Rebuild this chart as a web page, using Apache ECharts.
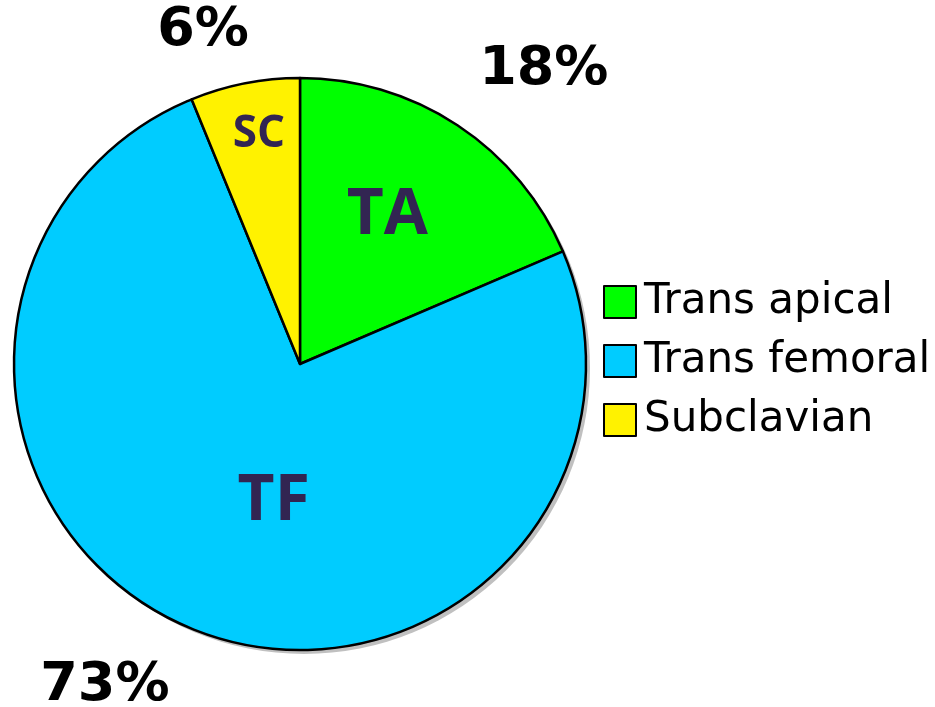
<!DOCTYPE html>
<html lang="en">
<head>
    <meta charset="UTF-8">
    <title>Access route</title>
    <style>
        html, body { margin: 0; padding: 0; background: #fff; }
        #chart { width: 935px; height: 707px; }
    </style>
</head>
<body>
<div id="chart"></div>
<script src="https://cdn.jsdelivr.net/npm/echarts@6/dist/echarts.min.js"></script>
<script>
    const names = ['Trans apical', 'Trans femoral', 'Subclavian'];
    const shortNames = ['TA', 'TF', 'SC'];
    const values = [18, 73, 6];
    const colors = ['#00ff00', '#00ccff', '#fff200'];

    // label nudges (px) away from the default spots
    const innerOffsets = [[7, -26], [29, 3], [-13, -86]];
    const outerOffsets = [[33, 26], [-50, -32], [-23, 43]];
    const innerSizes = [64, 64, 44];

    let chart = echarts.init(document.getElementById('chart'));
    let cx = 300, cy = 364, r = 286;

    let mainData = values.map(function (v, i) {
        return {
            name: names[i],
            value: v,
            itemStyle: { color: colors[i] },
            label: {
                formatter: shortNames[i],
                offset: innerOffsets[i],
                fontSize: innerSizes[i]
            }
        };
    });
    let pctData = values.map(function (v, i) {
        return {
            name: names[i],
            value: v,
            label: { formatter: v + '%', offset: outerOffsets[i] }
        };
    });
    let total = values.reduce(function (a, b) { return a + b; }, 0);

    let option = {
        animation: false,
        legend: {
            orient: 'vertical',
            left: 598,
            top: 276,
            itemWidth: 32,
            itemHeight: 32,
            itemGap: 17,
            icon: 'rect',
            data: names,
            itemStyle: { borderColor: '#000', borderWidth: 2 },
            textStyle: {
                fontFamily: 'DejaVu Sans',
                fontSize: 42,
                color: '#000',
                padding: [0, 0, 0, 3]
            }
        },
        series: [
            {
                name: 'shadow',
                type: 'pie',
                silent: true,
                center: [cx + 4, cy + 4],
                radius: [0, r],
                z: 1,
                label: { show: false },
                labelLine: { show: false },
                itemStyle: { color: '#c0c0c0', borderWidth: 0 },
                data: [{ name: 'shadow', value: total }]
            },
            {
                name: 'route',
                type: 'pie',
                center: [cx, cy],
                radius: [0, r],
                startAngle: 90,
                clockwise: true,
                z: 2,
                avoidLabelOverlap: false,
                itemStyle: { borderColor: '#000', borderWidth: 2.5 },
                label: {
                    show: true,
                    position: 'inside',
                    fontFamily: 'Open Sans',
                    fontWeight: 'bold',
                    color: '#322552'
                },
                labelLine: { show: false },
                emphasis: { disabled: true },
                data: mainData
            },
            {
                name: 'pct',
                type: 'pie',
                silent: true,
                center: [cx, cy],
                radius: [360, 400],
                startAngle: 90,
                clockwise: true,
                z: 3,
                avoidLabelOverlap: false,
                itemStyle: { color: 'transparent', borderWidth: 0 },
                label: {
                    show: true,
                    position: 'inside',
                    fontFamily: 'DejaVu Sans',
                    fontWeight: 'bold',
                    fontSize: 54,
                    color: '#000'
                },
                labelLine: { show: false },
                emphasis: { disabled: true },
                data: pctData
            }
        ]
    };
    chart.setOption(option);
</script>
</body>
</html>
